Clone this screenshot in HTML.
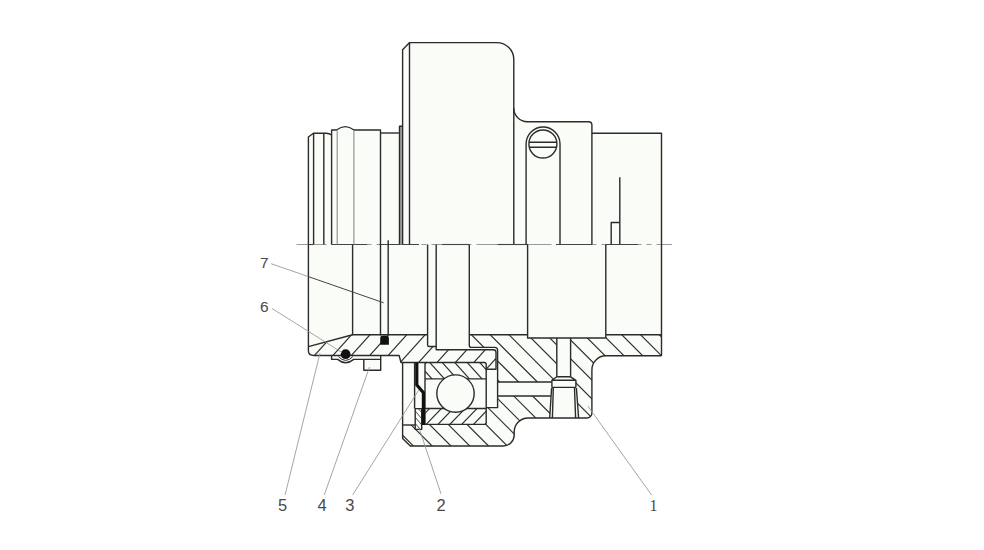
<!DOCTYPE html>
<html><head><meta charset="utf-8"><title>Diagram</title>
<style>html,body{margin:0;padding:0;background:#fff;}body{width:984px;height:550px;overflow:hidden;font-family:"Liberation Sans",sans-serif;}svg{display:block;}</style>
</head><body>
<svg width="984" height="550" viewBox="0 0 984 550">
<defs>
<clipPath id="cSleeve"><path d="M308.4,346.6 L352.6,334.8 L427.6,334.8 L427.6,345 Q427.6,346.5 429.2,346.5 L436.2,346.5 L436.2,349.8 L493.3,349.8 Q496,349.8 496,352.5 L496,369.2 L486.2,369.2 L486.2,364.5 Q486.2,362.5 484.2,362.5 L401,362.5 L399.1,355.5 L313.9,355.5 Q308.4,355.5 308.4,351 Z"/></clipPath>
<clipPath id="cHousing"><path d="M469.3,334.8 L527.6,334.8 L527.6,338 L605.8,338 L605.8,334.8 L661.5,334.8 L661.5,355.8 L605.8,355.8 A14,14 0 0 0 591.9,369.8 L591.9,413 A5,5 0 0 1 586.9,418 L528.2,418 A14,14 0 0 0 514.2,432 L514.2,435 A11,11 0 0 1 503.2,446 L410.3,446 L402.6,438.6 L402.6,425 L415.2,425 L415.2,429.4 L421.7,429.4 L421.7,424.4 L484.2,424.4 Q486.2,424.4 486.2,422.4 L486.2,407.6 L497.6,407.6 L497.6,350.2 Q497.6,347.4 494.8,347.4 L471.5,347.4 Q469.3,347.4 469.3,345.2 Z"/></clipPath>
<clipPath id="cRT"><path d="M425,378.9 L425,364.5 Q425,362.5 427,362.5 L484.2,362.5 Q486.2,362.5 486.2,364.5 L486.2,378.9 Z"/></clipPath>
<clipPath id="cRB"><path d="M425,408.5 L486.2,408.5 L486.2,422.4 Q486.2,424.4 484.2,424.4 L427,424.4 Q425,424.4 425,422.4 Z"/></clipPath>
<clipPath id="cRet"><path d="M415.2,408.6 L421.7,408.6 L421.7,429.4 L415.2,429.4 Z"/></clipPath>
</defs>
<rect width="984" height="550" fill="#ffffff"/>
<path d="M308.4,351 L308.4,137 L313.4,133.3 L326,133.3 Q329.5,133.4 331.6,135 L331.6,130 L336.5,130 Q341,126.6 345.2,126.6 Q349.5,126.6 354,130 L380.5,130 L380.5,133 L399.5,133 L399.5,126.3 L402.6,126.3 L402.6,49.8 L409.6,42.6 L497,42.6 A16.8,16.8 0 0 1 513.8,59.4 L513.8,108.3 A13.5,13.5 0 0 0 527.3,121.8 L588.7,121.8 A3.2,3.2 0 0 1 591.9,125 L591.9,133.2 L661.5,133.2 L661.5,355.8 L605.8,355.8 A14,14 0 0 0 591.9,369.8 L591.9,413 A5,5 0 0 1 586.9,418 L528.2,418 A14,14 0 0 0 514.2,432 L514.2,435 A11,11 0 0 1 503.2,446 L410.3,446 L402.6,438.6 L402.6,362.5 L401,362.5 L399.1,355.5 L380.7,355.5 L380.7,370.3 L363.8,370.3 L363.8,359.4 L353.8,359.4 Q345.6,366 337.6,359.4 L331.6,359.4 L331.6,355.5 L313.9,355.5 Q308.4,355.5 308.4,351 Z" fill="#fafcf8" stroke="none"/>
<g clip-path="url(#cSleeve)" stroke="#2a2a2a" stroke-width="1.15" fill="none">
<line x1="300.66" y1="330.00" x2="262.84" y2="372.00"/>
<line x1="319.06" y1="330.00" x2="281.24" y2="372.00"/>
<line x1="337.46" y1="330.00" x2="299.64" y2="372.00"/>
<line x1="355.86" y1="330.00" x2="318.04" y2="372.00"/>
<line x1="374.26" y1="330.00" x2="336.44" y2="372.00"/>
<line x1="392.66" y1="330.00" x2="354.84" y2="372.00"/>
<line x1="411.06" y1="330.00" x2="373.24" y2="372.00"/>
<line x1="429.46" y1="330.00" x2="391.64" y2="372.00"/>
<line x1="447.86" y1="330.00" x2="410.04" y2="372.00"/>
<line x1="466.26" y1="330.00" x2="428.44" y2="372.00"/>
<line x1="484.66" y1="330.00" x2="446.84" y2="372.00"/>
<line x1="503.06" y1="330.00" x2="465.24" y2="372.00"/>
<line x1="521.46" y1="330.00" x2="483.64" y2="372.00"/>
</g>
<g clip-path="url(#cHousing)" stroke="#2a2a2a" stroke-width="1.15" fill="none">
<line x1="278.60" y1="330.00" x2="398.60" y2="450.00"/>
<line x1="297.40" y1="330.00" x2="417.40" y2="450.00"/>
<line x1="316.20" y1="330.00" x2="436.20" y2="450.00"/>
<line x1="335.00" y1="330.00" x2="455.00" y2="450.00"/>
<line x1="353.80" y1="330.00" x2="473.80" y2="450.00"/>
<line x1="372.60" y1="330.00" x2="492.60" y2="450.00"/>
<line x1="391.40" y1="330.00" x2="511.40" y2="450.00"/>
<line x1="410.20" y1="330.00" x2="530.20" y2="450.00"/>
<line x1="429.00" y1="330.00" x2="549.00" y2="450.00"/>
<line x1="447.80" y1="330.00" x2="567.80" y2="450.00"/>
<line x1="466.60" y1="330.00" x2="586.60" y2="450.00"/>
<line x1="485.40" y1="330.00" x2="605.40" y2="450.00"/>
<line x1="504.20" y1="330.00" x2="624.20" y2="450.00"/>
<line x1="523.00" y1="330.00" x2="643.00" y2="450.00"/>
<line x1="541.80" y1="330.00" x2="661.80" y2="450.00"/>
<line x1="560.60" y1="330.00" x2="680.60" y2="450.00"/>
<line x1="579.40" y1="330.00" x2="699.40" y2="450.00"/>
<line x1="598.20" y1="330.00" x2="718.20" y2="450.00"/>
<line x1="617.00" y1="330.00" x2="737.00" y2="450.00"/>
<line x1="635.80" y1="330.00" x2="755.80" y2="450.00"/>
<line x1="654.60" y1="330.00" x2="774.60" y2="450.00"/>
</g>
<path d="M497.6,382 L551.9,382 L551.9,396 L497.6,396 Z" fill="#fafcf8"/><path d="M556.8,338 L570.6,338 L570.6,376.8 L556.8,376.8 Z" fill="#fafcf8"/><path d="M556.8,376.8 L570.6,376.8 L575.9,380.3 L575.9,387.4 L576.4,388.4 L578.6,418 L549.7,418 L551.6,388.4 L551.9,387.4 L551.9,380.3 Z" fill="#fafcf8"/>
<g clip-path="url(#cRT)" stroke="#2a2a2a" stroke-width="1.15" fill="none">
<line x1="414.98" y1="360.00" x2="432.99" y2="380.00"/>
<line x1="427.48" y1="360.00" x2="445.49" y2="380.00"/>
<line x1="439.98" y1="360.00" x2="457.99" y2="380.00"/>
<line x1="452.48" y1="360.00" x2="470.49" y2="380.00"/>
<line x1="464.98" y1="360.00" x2="482.99" y2="380.00"/>
<line x1="477.48" y1="360.00" x2="495.49" y2="380.00"/>
<line x1="489.98" y1="360.00" x2="507.99" y2="380.00"/>
</g>
<g clip-path="url(#cRB)" stroke="#2a2a2a" stroke-width="1.15" fill="none">
<line x1="431.05" y1="407.00" x2="412.70" y2="426.00"/>
<line x1="442.90" y1="407.00" x2="424.55" y2="426.00"/>
<line x1="454.75" y1="407.00" x2="436.40" y2="426.00"/>
<line x1="466.60" y1="407.00" x2="448.25" y2="426.00"/>
<line x1="478.45" y1="407.00" x2="460.10" y2="426.00"/>
<line x1="490.30" y1="407.00" x2="471.95" y2="426.00"/>
<line x1="502.15" y1="407.00" x2="483.80" y2="426.00"/>
</g>
<g clip-path="url(#cRet)" stroke="#2a2a2a" stroke-width="0.8" fill="none">
<line x1="396.24" y1="407.00" x2="416.38" y2="431.00"/>
<line x1="401.44" y1="407.00" x2="421.58" y2="431.00"/>
<line x1="406.64" y1="407.00" x2="426.78" y2="431.00"/>
<line x1="411.84" y1="407.00" x2="431.98" y2="431.00"/>
<line x1="417.04" y1="407.00" x2="437.18" y2="431.00"/>
<line x1="422.24" y1="407.00" x2="442.38" y2="431.00"/>
</g>
<line x1="296.5" y1="244.5" x2="672" y2="244.5" stroke="#9a9a9a" stroke-width="1" stroke-dasharray="30 5 5 5"/>
<line x1="308.4" y1="244.5" x2="313.6" y2="244.5" stroke="#444" stroke-width="1.1"/>
<line x1="331.6" y1="244.5" x2="367" y2="244.5" stroke="#444" stroke-width="1.1"/>
<line x1="379.5" y1="244.5" x2="419" y2="244.5" stroke="#444" stroke-width="1.1"/>
<line x1="442" y1="244.5" x2="469" y2="244.5" stroke="#444" stroke-width="1.1"/>
<line x1="497.5" y1="244.5" x2="528" y2="244.5" stroke="#444" stroke-width="1.1"/>
<line x1="556" y1="244.5" x2="592" y2="244.5" stroke="#444" stroke-width="1.1"/>
<line x1="605.7" y1="244.5" x2="638" y2="244.5" stroke="#444" stroke-width="1.1"/>
<rect x="399.5" y="126.3" width="3.1" height="118.2" fill="#a8a8a8"/>
<g fill="none" stroke="#2b2b2b" stroke-width="1.4" stroke-linecap="butt" stroke-linejoin="round">
<path d="M308.4,244.5 L308.4,137 L313.4,133.3 L326,133.3 Q329.5,133.4 331.6,135"/>
<path d="M331.6,244.5 L331.6,130 L336.5,130 Q341,126.6 345.2,126.6 Q349.5,126.6 354,130 L380.5,130 L380.5,335.6"/>
<path d="M380.5,133 L399.5,133"/>
<path d="M399.5,244.5 L399.5,126.3 L402.6,126.3"/>
<path d="M402.6,244.5 L402.6,49.8 L409.6,42.6 L497,42.6 A16.8,16.8 0 0 1 513.8,59.4 L513.8,244.5"/>
<path d="M409.5,42.6 L409.5,244.5"/>
<path d="M513.8,108.3 A13.5,13.5 0 0 0 527.3,121.8 L588.7,121.8 A3.2,3.2 0 0 1 591.9,125 L591.9,244.5"/>
<path d="M591.9,133.2 L661.5,133.2 L661.5,355.8"/>
<path d="M313.6,133.3 L313.6,244.5"/>
<path d="M323.8,133.3 L323.8,244.5"/>
<path d="M337.2,130.5 L337.2,244.5 M353.9,130.5 L353.9,244.5" stroke="#8c8c8c" stroke-width="1.1"/>
<path d="M526.1,244.5 L526.1,143.9 A16.95,16.95 0 0 1 560,143.9 L560,244.5"/>
<circle cx="542.9" cy="144" r="14"/>
<path d="M529.1,142.2 L556.7,142.2 M529.3,147.3 L556.5,147.3"/>
<path d="M619.8,177.3 L619.8,244.5 M611.2,244.5 L611.2,222.5 L619.8,222.5"/>
<path d="M388.2,240.3 L388.2,335.6"/>
<path d="M308.4,244.5 L308.4,351 Q308.4,355.5 313.9,355.5 L399.1,355.5 L401,362.5 L484.2,362.5 Q486.2,362.5 486.2,364.5 L486.2,422.4 Q486.2,424.4 484.2,424.4 L425,424.4"/>
<path d="M308.4,346.6 L352.6,334.8"/>
<path d="M352.6,244.5 L352.6,334.8 L427.6,334.8"/>
<path d="M427.6,244.5 L427.6,345 Q427.6,346.5 429.2,346.5 L436.2,346.5"/>
<path d="M436.2,244.5 L436.2,349.8 L493.3,349.8 Q496,349.8 496,352.5 L496,369.2 L486.2,369.2"/>
<path d="M469.3,244.5 L469.3,345.2 Q469.3,347.4 471.5,347.4 L494.8,347.4 Q497.6,347.4 497.6,350.2 L497.6,407.6 L486.2,407.6"/>
<path d="M469.3,334.8 L527.6,334.8"/>
<path d="M527.6,244.5 L527.6,338 L605.8,338"/>
<path d="M605.8,244.5 L605.8,338 M605.8,334.8 L661.5,334.8"/>
<path d="M661.5,355.8 L605.8,355.8 A14,14 0 0 0 591.9,369.8 L591.9,413 A5,5 0 0 1 586.9,418 L528.2,418 A14,14 0 0 0 514.2,432 L514.2,435 A11,11 0 0 1 503.2,446 L410.3,446 L402.6,438.6 L402.6,362.5"/>
<path d="M402.6,425 L415.2,425"/>
<path d="M425,378.9 L486.2,378.9 M425,408.5 L486.2,408.5"/>
<path d="M425,424.4 L425,364.5 Q425,362.5 427,362.5"/>
<path d="M415.2,408.6 L421.7,408.6 L421.7,429.4 L415.2,429.4 Z"/>
<path d="M414.6,362.5 L414.6,408.6"/>
<path d="M497.6,382 L551.9,382 M497.6,396 L550.8,396"/>
<path d="M556.8,338 L556.8,376.8 M570.6,338 L570.6,376.8"/>
<path d="M556.8,376.8 L570.6,376.8 M556.8,376.8 L551.9,380.3 L551.9,387.4 M570.6,376.8 L575.9,380.3 L575.9,387.4 M551.9,380.3 L575.9,380.3 M551.9,387.4 L575.9,387.4"/>
<path d="M551.6,388 L549.7,418 M553.3,388 L552.4,418 M574.5,388 L575.6,418 M576.4,388 L578.6,418"/>
<path d="M331.6,355.5 L331.6,359.4 L337.6,359.4 Q345.6,366 353.8,359.4 L380.7,359.4 L380.7,355.5"/>
<path d="M338.4,356.6 Q345.6,364.2 352.9,356.6" stroke-width="1"/>
<path d="M363.8,359.4 L363.8,370.3 L380.7,370.3 L380.7,359.4"/>
</g>
<circle cx="455.5" cy="393.6" r="18.7" fill="#fafcf8" stroke="#2b2b2b" stroke-width="1.4"/>
<circle cx="345.6" cy="354.2" r="4.9" fill="#111"/>
<path d="M380.2,344.8 L380.2,338 Q380.2,335.6 384.5,335.6 Q388.9,335.6 388.9,338 L388.9,344.8 Z" fill="#111"/>
<path d="M416.8,362.5 L416.8,385 L423.4,392.6 L423.4,425" fill="none" stroke="#111" stroke-width="3.2" stroke-linejoin="miter"/>
<g stroke="#959595" stroke-width="0.85" fill="none">
<path d="M271.1,263.7 L308.4,276.6"/>
<path d="M271.9,308.4 L342,352.5"/>
<path d="M285.1,494.9 L320,353"/>
<path d="M324.3,494.9 L369.5,367"/>
<path d="M352.7,494.9 L418.6,390.3"/>
<path d="M441,493.8 L419.2,428.4"/>
<path d="M651.7,495.2 L587.9,406.1"/>
</g>
<path d="M308.4,276.6 L383.7,302.8" stroke="#444" stroke-width="1" fill="none"/>
<g font-family="Liberation Sans, sans-serif" fill="#4a4a4a" text-anchor="middle">
<text x="264.3" y="267.8" font-size="15.5">7</text>
<text x="264.3" y="312.3" font-size="15.5">6</text>
<text x="282.6" y="511.3" font-size="16.5">5</text>
<text x="322.2" y="511.3" font-size="16.5">4</text>
<text x="349.9" y="511.3" font-size="16.5">3</text>
<text x="441" y="511.3" font-size="16.5">2</text>
</g>
<text x="653.4" y="511" font-family="Liberation Serif, serif" font-size="16" fill="#4a4a4a" text-anchor="middle">1</text>
</svg>
</body></html>
